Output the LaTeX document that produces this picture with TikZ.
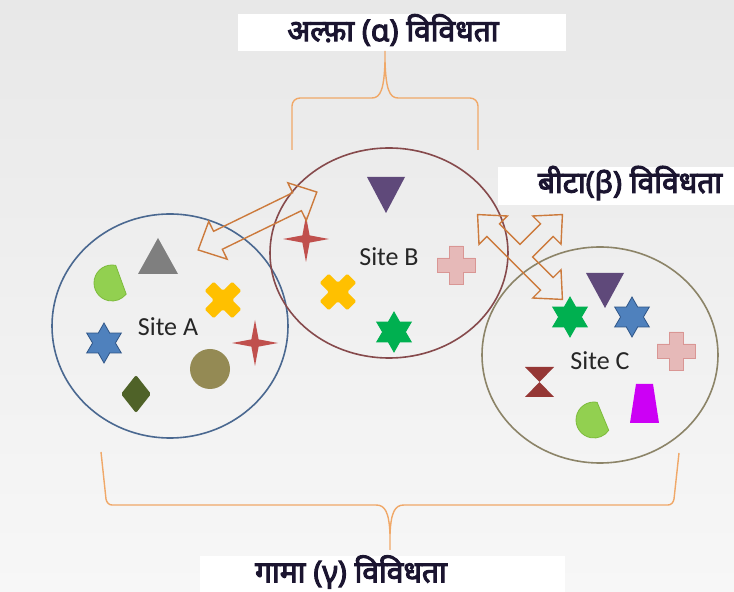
\documentclass[tikz,border=0pt]{standalone}
\usepackage{fontspec}
\setmainfont{Carlito}
\newfontfamily\deva[Script=Devanagari, AutoFakeBold=3.5]{Noto Sans}
\usetikzlibrary{shapes.geometric}
\definecolor{bgtop}{HTML}{E8E8E8}
\definecolor{bgbot}{HTML}{F7F7F7}
\definecolor{circA}{HTML}{4A6890}
\definecolor{circB}{HTML}{864A4C}
\definecolor{circC}{HTML}{8C8468}
\definecolor{bracecol}{HTML}{F0A868}
\definecolor{arrowcol}{HTML}{CC7A3C}
\definecolor{gtri}{HTML}{7F7F7F}
\definecolor{lgreen}{HTML}{92D050}
\definecolor{lgreenb}{HTML}{7DBB3C}
\definecolor{yell}{HTML}{FFC000}
\definecolor{bstar}{HTML}{4F81BD}
\definecolor{bstarb}{HTML}{2F5587}
\definecolor{rstar}{HTML}{C0504D}
\definecolor{olive}{HTML}{948A54}
\definecolor{dkgreen}{HTML}{4F6228}
\definecolor{purp}{HTML}{5F497A}
\definecolor{pink}{HTML}{E6B9B8}
\definecolor{pinkb}{HTML}{D99694}
\definecolor{gstar}{HTML}{00B050}
\definecolor{hglass}{HTML}{953735}
\definecolor{magen}{HTML}{CC00F5}
\definecolor{divtext}{HTML}{1B1530}
\definecolor{sitetext}{HTML}{262626}
\newcommand{\myplus}[2]{(-#2,#1) -- (#2,#1) -- (#2,#2) -- (#1,#2) -- (#1,-#2) -- (#2,-#2) -- (#2,-#1) -- (-#2,-#1) -- (-#2,-#2) -- (-#1,-#2) -- (-#1,#2) -- (-#2,#2) -- cycle}
\tikzset{
  site/.style={ellipse, draw, line width=1.6pt, inner sep=0pt},
  sitelbl/.style={font=\fontsize{26}{28}\selectfont, text=sitetext, inner sep=0pt},
  divlbl/.style={font=\deva\bfseries\fontsize{30}{32}\selectfont, text=divtext, inner sep=0pt},
  brace/.style={draw=bracecol, line width=1.4pt},
  blockarrow/.style={draw=arrowcol, line width=1.4pt, line join=miter},
  sixstar/.style={star, star points=6, star point ratio=1.75, minimum size=40pt, inner sep=0pt, line width=0.8pt},
  fourstar/.style={star, star points=4, star point ratio=4.5, minimum size=46pt, inner sep=0pt},
  whitestrip/.style={fill=white, draw=none},
}
\begin{document}
\begin{tikzpicture}[x=1pt,y=1pt]
\useasboundingbox (0,0) rectangle (734,592);
\shade[top color=bgtop, bottom color=bgbot] (0,0) rectangle (734,592);
% white strips behind labels
\fill[whitestrip] (238,541) rectangle (566,578);
\fill[whitestrip] (498,387) rectangle (734,425);
\fill[whitestrip] (200,0) rectangle (565,36);

% labels
\node[divlbl] (alpha) at (393,562) {अल्फ़ा (α) विविधता};
\node[divlbl] (beta) at (630,409) {बीटा(β) विविधता};
\node[divlbl] (gamma) at (351,20) {गामा (γ) विविधता};

% sites
\node[site, draw=circA, minimum width=236pt, minimum height=224pt] (siteA) at (170,266) {};
\node[site, draw=circB, minimum width=238pt, minimum height=210pt] (siteB) at (389,339) {};
\node[site, draw=circC, minimum width=236pt, minimum height=216pt] (siteC) at (600,237) {};
\node[sitelbl] (labA) at (168,265) {Site A};
\node[sitelbl] (labB) at (389,335) {Site B};
\node[sitelbl] (labC) at (600,231) {Site C};

% braces
\draw[brace] (292,442) -- (292,486) to[out=90,in=180] (300,494) -- (372,494)
  .. controls (381,494) and (384,504) .. (385,530) -- (385,541);
\draw[brace] (385,530) .. controls (386,504) and (389,494) .. (398,494) -- (470,494)
  to[out=0,in=90] (478,486) -- (478,442);
\draw[brace] (101,140) -- (106,93) to[out=-80,in=180] (112,87) -- (376,87)
  .. controls (385,87) and (389,80) .. (390,58) -- (390,42);
\draw[brace] (390,58) .. controls (391,80) and (395,87) .. (404,87) -- (668,87)
  to[out=0,in=-100] (674,93) -- (679,139);

% Site A shapes
\fill[gtri] (158,354) -- (178,318) -- (138,318) -- cycle;
\filldraw[fill=lgreen, draw=lgreenb, line width=0.8pt] (112,309) ++(78:18) arc[start angle=78, end angle=322, radius=18] -- cycle;
\begin{scope}[shift={(223,292)}, rotate=45]
  \fill[yell, rounded corners=1.5pt] \myplus{19.5}{6.5};
\end{scope}
\node[sixstar, fill=bstar, draw=bstarb] (starA) at (104,249) {};
\node[fourstar, fill=rstar] (fstarA) at (255,249) {};
\fill[olive] (210,223) circle[radius=20];
\fill[dkgreen, rounded corners=2pt] (136,217) -- (151,198) -- (136,179) -- (121,198) -- cycle;

% Site B shapes
\fill[purp] (367,415) -- (405,415) -- (386,379) -- cycle;
\node[fourstar, fill=rstar] (fstarB) at (306,353) {};
\begin{scope}[shift={(456,327)}]
  \filldraw[fill=pink, draw=pinkb, line width=0.8pt] \myplus{19}{7};
\end{scope}
\begin{scope}[shift={(338,300)}, rotate=45]
  \fill[yell, rounded corners=1.5pt] \myplus{19.5}{6.5};
\end{scope}
\node[sixstar, fill=gstar, draw=gstar] (starB) at (394,260) {};

% Site C shapes
\fill[purp] (586,319) -- (624,319) -- (605,284) -- cycle;
\node[sixstar, fill=gstar, draw=gstar] (starC1) at (570,275) {};
\node[sixstar, fill=bstar, draw=bstarb] (starC2) at (632,275) {};
\begin{scope}[shift={(676,241)}]
  \filldraw[fill=pink, draw=pinkb, line width=0.8pt] \myplus{19}{7};
\end{scope}
\fill[hglass] (525,225) -- (554,225) -- (525,195) -- (554,195) -- cycle;
\fill[magen] (636,208) -- (653,208) -- (659,169) -- (630,169) -- cycle;
\filldraw[fill=lgreen, draw=lgreenb, line width=0.8pt] (594,172) ++(80:18) arc[start angle=80, end angle=325, radius=18] -- cycle;

% block arrows
\begin{scope}[shift={(257.5,371)}, rotate=26]
  \draw[blockarrow] (-66,0) -- (-44,21) -- (-44,10) -- (44,10) -- (44,21) -- (66,0)
    -- (44,-21) -- (44,-10) -- (-44,-10) -- (-44,-21) -- cycle;
\end{scope}
\begin{scope}[shift={(520,335)}, rotate=-45]
  \draw[blockarrow] (-60,0) -- (-38,20) -- (-38,9) -- (-9,9) -- (-9,38) -- (-20,38) -- (0,60)
    -- (20,38) -- (9,38) -- (9,9) -- (38,9) -- (38,20) -- (60,0) -- (38,-20) -- (38,-9)
    -- (-38,-9) -- (-38,-20) -- cycle;
\end{scope}
\end{tikzpicture}
\end{document}
